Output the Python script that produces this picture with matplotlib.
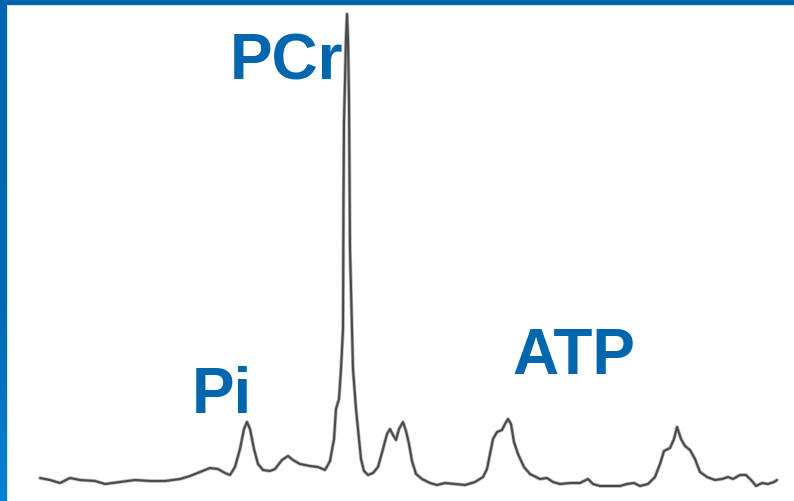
import numpy as np
import matplotlib
matplotlib.use("Agg")
import matplotlib.pyplot as plt
from matplotlib.patches import Rectangle
from matplotlib.colors import LinearSegmentedColormap

# 31P spectrum: chemical shift (ppm, relative to PCr) and intensity (a.u.)
ppm = [15.35, 14.85, 14.35, 13.85, 13.35, 12.6, 12.1, 11.35, 10.6, 9.85,
       9.1, 8.35, 7.85, 7.35, 6.85, 6.45, 6.1, 5.85, 5.6, 5.35,
       5.15, 5.0, 4.85, 4.65, 4.45, 4.2, 3.85, 3.6, 3.25, 2.95,
       2.7, 2.35, 1.85, 1.45, 1.1, 0.85, 0.65, 0.55, 0.4, 0.3,
       0.2, 0.175, 0.15, 0.05, 0.0, -0.05, -0.1, -0.15, -0.25, -0.3,
       -0.45, -0.55, -0.7, -0.85, -1.05, -1.3, -1.55, -1.8, -2.0, -2.15,
       -2.3, -2.45, -2.6, -2.8, -2.95, -3.1, -3.25, -3.45, -3.75, -4.15,
       -4.5, -4.9, -5.4, -5.9, -6.4, -6.8, -7.0, -7.15, -7.3, -7.5,
       -7.75, -7.9, -8.05, -8.2, -8.35, -8.55, -8.85, -9.15, -9.65, -10.0,
       -10.3, -10.65, -11.15, -11.65, -12.05, -12.3, -12.65, -13.15, -13.65, -14.0,
       -14.35, -14.65, -15.05, -15.4, -15.65, -15.85, -16.15, -16.35, -16.5, -16.7,
       -16.9, -17.15, -17.4, -17.65, -18.0, -18.4, -18.75, -19.05, -19.3, -19.65,
       -19.95, -20.25, -20.45, -20.75, -21.05, -21.35, -21.5]
intensity = [0.6, 0.2, -0.4, 0.6, 0.2, 0.0, -0.6, -0.2, 0.2, 0.0,
             0.0, 0.4, 1.0, 1.8, 2.6, 2.4, 1.6, 1.2, 2.8, 6.4,
             10.4, 11.8, 10.4, 6.4, 3.4, 2.2, 2.0, 2.4, 4.2, 5.0,
             4.2, 3.4, 3.0, 2.8, 2.2, 4.0, 8.4, 14.4, 16.4, 22.4,
             30.4, 56.4, 71.8, 88.4, 93.4, 88.4, 76.4, 46.4, 30.4, 22.4,
             14.4, 10.4, 4.4, 2.0, 1.2, 1.6, 2.8, 6.4, 9.4, 10.4,
             9.2, 8.2, 10.4, 11.8, 10.0, 7.4, 4.0, 1.4, 0.4, -0.4,
             -0.8, -0.4, -0.6, -0.8, -0.2, 0.8, 2.4, 5.4, 8.4, 9.8,
             10.2, 11.4, 12.4, 11.4, 7.8, 5.4, 2.8, 1.4, 0.4, 0.6,
             -0.2, -0.6, -0.4, -0.4, 0.4, -0.6, -1.0, -1.0, -1.0, -0.6,
             -0.4, -1.0, -0.6, 0.8, 3.4, 6.0, 6.6, 8.4, 10.8, 8.4,
             7.0, 6.2, 4.4, 1.8, 0.8, 0.2, 0.4, 0.8, 0.4, 1.2,
             1.2, 0.0, -1.0, -0.4, -0.6, -0.2, 0.2]

# Peak labels: text, ppm position, intensity of text baseline
labels = ["Pi", "PCr", "ATP"]
label_ppm = [6.275, 3.0, -11.325]
label_height = [13.8, 80.4, 21.6]

W, H = 794, 502
fig = plt.figure(figsize=(W / 100, H / 100), dpi=100)
fig.patch.set_facecolor("white")

ax = fig.add_axes([0, 0, 1, 1])
# soft grey halo under a darker core gives the grainy trace look
ax.plot(ppm, intensity, color="#9a9a9a", lw=2.6, solid_joinstyle="round",
        solid_capstyle="round", alpha=0.7)
ax.plot(ppm, intensity, color="#4a4a4a", lw=1.5, solid_joinstyle="round",
        solid_capstyle="round")
ax.set_xlim(17.35, -22.35)
ax.set_ylim(-4.0, 96.4)
ax.axis("off")

blue_text = "#0066ae"
for txt, xp, yp in zip(labels, label_ppm, label_height):
    ax.text(xp, yp, txt, ha="center", va="baseline", color=blue_text,
            fontsize=46, fontweight="bold", family="Liberation Sans")

# Frame: blue band on top and a vertical gradient band on the left
fig.patches.append(Rectangle((0, 1 - 6 / H), 1, 6 / H, transform=fig.transFigure,
                             facecolor="#0065ad", edgecolor="none", zorder=5))
fig.patches.append(Rectangle((0, 1 - 7 / H), 1, 1 / H, transform=fig.transFigure,
                             facecolor="#c8f0d8", edgecolor="none", zorder=5))
fig.patches.append(Rectangle((7 / W, 0), 1 / W, 1 - 6 / H, transform=fig.transFigure,
                             facecolor="#c8f0d8", edgecolor="none", zorder=5))

side = fig.add_axes([0, 0, 7 / W, 1 - 6 / H], zorder=6)
cmap = LinearSegmentedColormap.from_list(
    "side", [(0.0, "#0082d4"), (0.4, "#0069b2"), (1.0, "#0065ad")])
side.imshow(np.linspace(0, 1, 256).reshape(-1, 1), aspect="auto", cmap=cmap,
            origin="lower", extent=[0, 1, 0, 1])
side.axis("off")

fig.savefig("out.png", dpi=100)
